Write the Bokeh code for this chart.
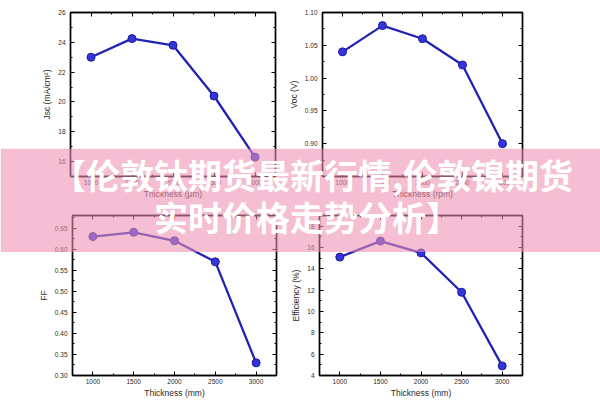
from bokeh.plotting import figure
from bokeh.layouts import row, column
from bokeh.models import FixedTicker, LinearAxis, Label, Range1d, ColumnDataSource, NumeralTickFormatter
from bokeh.embed import file_html
from bokeh.resources import INLINE
from bokeh.core.properties import value

# ---- data ----
thickness = [1000, 1500, 2000, 2500, 3000]
jsc = [23.0, 24.25, 23.8, 20.4, 16.3]
voc = [1.04, 1.08, 1.06, 1.02, 0.90]
ff = [0.63, 0.64, 0.62, 0.57, 0.33]
eff = [15.1, 16.6, 15.5, 11.8, 4.9]

x_ticks = [1000, 1500, 2000, 2500, 3000]
x_minor = [750, 1250, 1750, 2250, 2750, 3250]
jsc_ticks = [16, 18, 20, 22, 24, 26]
jsc_minor = [15, 17, 19, 21, 23, 25]
voc_ticks = [0.90, 0.95, 1.00, 1.05, 1.10]
voc_minor = [0.875, 0.925, 0.975, 1.025, 1.075]
ff_ticks = [0.30, 0.35, 0.40, 0.45, 0.50, 0.55, 0.60, 0.65]
ff_minor = [0.325, 0.375, 0.425, 0.475, 0.525, 0.575, 0.625, 0.675]
eff_ticks = [4, 6, 8, 10, 12, 14, 16, 18]
eff_minor = [5, 7, 9, 11, 13, 15, 17]

panel_tags = ["(a)", "(b)", "(c)", "(d)"]
y_titles = ["Jsc (mA/cm\u00b2)", "Voc (V)", "FF", "Efficiency (%)"]
x_titles = ["Thickness (\u03bcm)", "Thickness (rpm)", "Thickness (mm)", "Thickness (mm)"]
banner_lines = ["\u3010伦敦钛期货最新行情,伦敦镍期货", "实时价格走势分析\u3011"]

LINE = "#2222b4"
FILL = "#3535dc"
TXT = "#2a2a2a"


def style_axis(ax, ticks, minor, fmt=None, labels=True, lstand=5, tstand=3):
    ax.ticker = FixedTicker(ticks=ticks, minor_ticks=minor)
    ax.axis_line_color = "black"
    ax.axis_line_width = 1.4
    ax.major_tick_line_color = "black"
    ax.minor_tick_line_color = "black"
    ax.major_tick_in = 4
    ax.major_tick_out = 0
    ax.minor_tick_in = 2
    ax.minor_tick_out = 0
    ax.major_label_text_font = "Liberation Sans"
    ax.major_label_text_font_size = "6.5px"
    ax.major_label_text_color = TXT
    ax.major_label_standoff = lstand
    ax.axis_label_text_font = "Liberation Sans"
    ax.axis_label_text_font_size = "8.5px"
    ax.axis_label_text_font_style = "normal"
    ax.axis_label_text_color = TXT
    ax.axis_label_standoff = tstand
    if fmt is not None:
        ax.formatter = fmt
    if not labels:
        ax.major_label_overrides = {t: "" for t in ticks}
        ax.major_label_text_font_size = "0px"
        ax.major_label_standoff = 0


def panel(w, h, lb, rb, tb, bb, y, yr, yt, ym, idx, fmt, tag_dx, tag_dy):
    p = figure(width=w, height=h, x_range=Range1d(750, 3250), y_range=Range1d(*yr),
               output_backend="svg", toolbar_location=None,
               min_border_left=lb, min_border_right=rb, min_border_top=tb, min_border_bottom=bb,
               x_axis_label=x_titles[idx], y_axis_label=y_titles[idx])
    p.grid.visible = False
    p.outline_line_color = "black"
    p.outline_line_width = 1.4
    p.background_fill_color = "white"
    p.border_fill_color = "white"
    style_axis(p.xaxis[0], x_ticks, x_minor, lstand=3, tstand=1)
    style_axis(p.yaxis[0], yt, ym, fmt)
    top = LinearAxis()
    style_axis(top, x_ticks, x_minor, labels=False)
    p.add_layout(top, "above")
    right = LinearAxis()
    style_axis(right, yt, ym, labels=False)
    p.add_layout(right, "right")
    src = ColumnDataSource(dict(x=thickness, y=y))
    p.line("x", "y", source=src, line_color=LINE, line_width=2.3)
    p.scatter("x", "y", source=src, size=8, fill_color=FILL, line_color="#1a1a96", line_width=1)
    p.add_layout(Label(x=750, y=yr[1], x_offset=tag_dx, y_offset=tag_dy, text=panel_tags[idx],
                       text_font="Liberation Sans", text_font_size="8px", text_font_style="bold",
                       text_color="#111111", text_align="center", text_baseline="middle"))
    return p


fa = panel(285, 203, 70, 10, 12, 27, jsc, (15, 26), jsc_ticks, jsc_minor, 0, None, -23, 4)
fb = panel(315, 203, 34, 78, 12, 27, voc, (0.85, 1.10), voc_ticks, voc_minor, 1,
           NumeralTickFormatter(format="0.00"), -30, 4)
fc = panel(285, 197, 72, 9, 12, 21, ff, (0.30, 0.68), ff_ticks, ff_minor, 2,
           NumeralTickFormatter(format="0.00"), -24, 1)
fd = panel(315, 197, 34, 78, 12, 21, eff, (4, 19), eff_ticks, eff_minor, 3, None, -21, 1)

# ---- banner overlay ----
banner = figure(width=600, height=104, x_range=Range1d(0, 1), y_range=Range1d(0, 1),
                output_backend="svg", toolbar_location=None,
                min_border=0, margin=(-252, 0, 0, 0))
banner.axis.visible = False
banner.grid.visible = False
banner.outline_line_color = None
banner.background_fill_alpha = 0
banner.border_fill_alpha = 0
banner.quad(left=[0], right=[1], bottom=[0], top=[1], fill_color="#ee8fb2",
            fill_alpha=0.58, line_color=None)
bsrc = ColumnDataSource(dict(x=[0.52, 0.511], y=[0.747, 0.346], t=banner_lines))
banner.text("x", "y", text="t", source=bsrc, text_font=value("Noto Sans CJK SC"),
            text_font_style="bold", text_font_size="34px", text_color="white",
            text_align="center", text_baseline="middle")

layout = column(row(fa, fb), row(fc, fd), banner)
open("out.html", "w").write(file_html(layout, INLINE))
